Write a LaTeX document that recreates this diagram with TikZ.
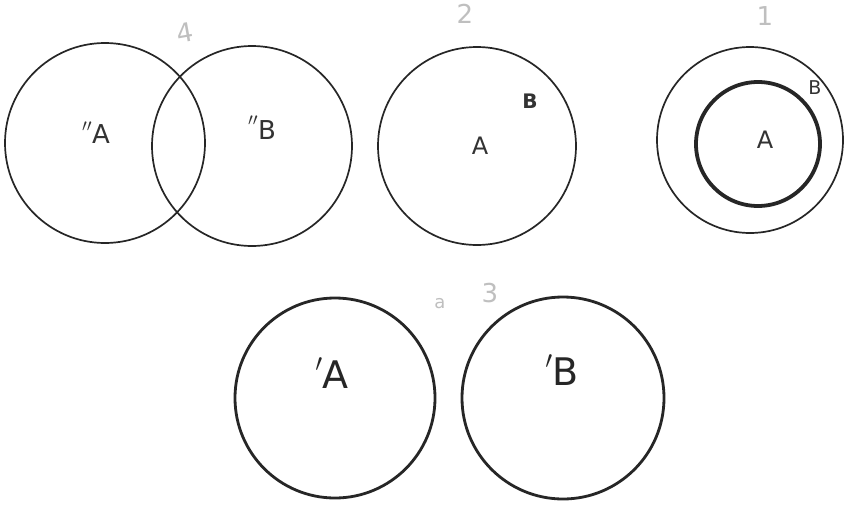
\documentclass[tikz,border=0pt]{standalone}
\usepackage{fontspec}
\setmainfont{DejaVu Sans}
\begin{document}
\begin{tikzpicture}[x=1pt,y=-1pt,
  thinc/.style={draw=black!85,line width=1.7pt},
  thickc/.style={draw=black!85,line width=2.8pt},
  boldc/.style={draw=black!85,line width=3.8pt},
  lab/.style={text=black!80,font=\fontsize{26}{26}\selectfont},
  biglab/.style={text=black!85,font=\fontsize{38}{38}\selectfont},
  pencil/.style={text=black!25,font=\fontsize{26}{26}\selectfont}]
\useasboundingbox[fill=white] (0,0) rectangle (857,509);
% set 4
\node[thinc,circle,minimum size=200pt,inner sep=0pt] (c1) at (105,143) {};
\node[thinc,circle,minimum size=200pt,inner sep=0pt] (c2) at (252,146) {};
\node[lab] (la1) at (96,133) {\raisebox{3pt}{$''$}A};
\node[lab] (lb1) at (262,128) {\raisebox{5pt}{$''$}B};
\node[pencil,rotate=10] (n4) at (185,33) {4};
% set 2
\node[thinc,circle,minimum size=198pt,inner sep=0pt] (c3) at (477,146) {};
\node[lab,font=\fontsize{24}{24}\selectfont] (la2) at (480,146) {A};
\node[lab,font=\fontsize{20}{20}\selectfont\bfseries] (lb2) at (530,101) {B};
\node[pencil] (n2) at (465,14) {2};
% set 1
\node[thinc,circle,minimum size=186pt,inner sep=0pt] (c4) at (750,140) {};
\node[boldc,circle,minimum size=124pt,inner sep=0pt] (c5) at (758,144) {};
\node[lab,font=\fontsize{24}{24}\selectfont] (la3) at (765,140) {A};
\node[lab,font=\fontsize{19}{19}\selectfont] (lb3) at (815,88) {B};
\node[pencil] (n1) at (765,16) {1};
% set 3
\node[thickc,circle,minimum size=200pt,inner sep=0pt] (c6) at (335,398) {};
\node[thickc,circle,minimum size=202pt,inner sep=0pt] (c7) at (563,398) {};
\node[biglab] (la4) at (332,373) {\raisebox{8pt}{$'$}A};
\node[biglab] (lb4) at (562,370) {\raisebox{8pt}{$'$}B};
\node[pencil,font=\fontsize{18}{18}\selectfont] (na) at (440,304) {a};
\node[pencil] (n3) at (490,293) {3};
\end{tikzpicture}
\end{document}
